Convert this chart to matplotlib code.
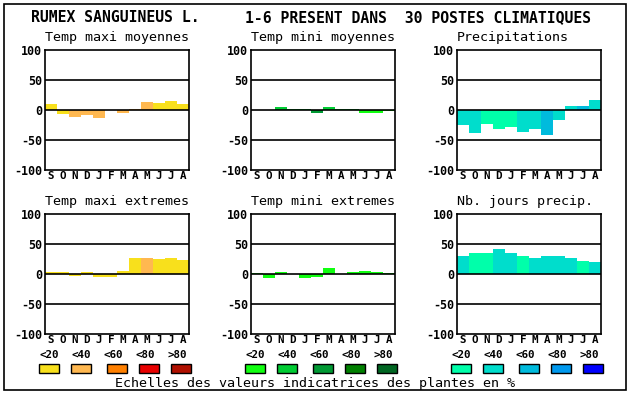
import matplotlib
matplotlib.use("Agg")
import matplotlib.pyplot as plt
from matplotlib.patches import Rectangle

plt.rcParams['font.family'] = 'DejaVu Sans Mono'
plt.rcParams['axes.unicode_minus'] = False

W, H = 630, 394

months = ['S', 'O', 'N', 'D', 'J', 'F', 'M', 'A', 'M', 'J', 'J', 'A']
yticks = [-100, -50, 0, 50, 100]
scale_labels = ['<20', '<40', '<60', '<80', '>80']

# colour scales (classes <20 .. >80)
temp_max_colors = ['#f8e01c', '#ffb850', '#ff8000', '#e80000', '#b01000']
temp_min_colors = ['#11ff11', '#00cc33', '#009933', '#008000', '#006622']
precip_colors = ['#00ffaa', '#00ddcc', '#00bbdd', '#0099ee', '#0000ff']

# values per month and class index of each bar
tmax_moy = [10, -6.7, -11.7, -8.3, -13.3, 0, -5, 1.7, 13.3, 11.7, 15, 10]
tmax_moy_cls = [0, 0, 1, 1, 1, 0, 1, 1, 1, 0, 0, 0]
tmin_moy = [0, 0, 5, 1.7, 1.7, -4.4, 5, 1.7, 1.7, -4.4, -4.4, -2.2]
tmin_moy_cls = [0, 0, 1, 1, 1, 2, 1, 1, 1, 0, 0, 0]
precip = [-24.4, -37.8, -22.8, -31, -27.8, -36, -31, -41, -16, 6.7, 6.7, 17.2]
precip_cls = [1, 1, 0, 0, 0, 1, 1, 2, 1, 1, 2, 1]
tmax_ext = [3.3, 3.3, -2.8, 3.3, -4.4, -4.4, 5, 26.7, 26.7, 25, 26.7, 23.3]
tmax_ext_cls = [0, 0, 0, 0, 0, 0, 0, 0, 1, 0, 0, 0]
tmin_ext = [1.7, -6.1, 3.3, 0, -6.1, -4.4, 10, 0, 3.3, 5, 3.3, 1.7]
tmin_ext_cls = [0] * 12
nb_jours = [30, 35, 35, 41.7, 35, 30, 26.7, 30, 30, 26.7, 21.7, 20]
nb_jours_cls = [1, 0, 0, 1, 1, 0, 1, 1, 1, 1, 0, 1]

panels = [
    ('Temp maxi moyennes', tmax_moy, tmax_moy_cls, temp_max_colors, 45, 50),
    ('Temp mini moyennes', tmin_moy, tmin_moy_cls, temp_min_colors, 251, 50),
    ('Precipitations', precip, precip_cls, precip_colors, 457, 50),
    ('Temp maxi extremes', tmax_ext, tmax_ext_cls, temp_max_colors, 45, 214),
    ('Temp mini extremes', tmin_ext, tmin_ext_cls, temp_min_colors, 251, 214),
    ('Nb. jours precip.', nb_jours, nb_jours_cls, precip_colors, 457, 214),
]

fig = plt.figure(figsize=(W / 100, H / 100), dpi=100)
fig.patch.set_facecolor('white')

# outer frame
fig.patches.append(Rectangle((4 / W, 1 - 390 / H), 622 / W, 386 / H,
                             transform=fig.transFigure, fill=False,
                             edgecolor='black', linewidth=1.2))

fig.text(31 / W, 1 - 18 / H, 'RUMEX SANGUINEUS L.', fontsize=10.6,
         fontweight='bold', ha='left', va='center')
fig.text(245 / W, 1 - 18 / H, '1-6 PRESENT DANS  30 POSTES CLIMATIQUES',
         fontsize=10.6, fontweight='bold', ha='left', va='center')

aw, ah = 144, 120
for title, vals, cls, cols, px, py in panels:
    ax = fig.add_axes([px / W, 1 - (py + ah) / H, aw / W, ah / H])
    x = list(range(12))
    ax.bar(x, vals, width=1.0, color=[cols[c] for c in cls],
           edgecolor='none', zorder=2)
    for yv in (-50, 0, 50):
        ax.axhline(yv, color='black', linewidth=1.2, zorder=3)
    ax.set_xlim(-0.5, 11.5)
    ax.set_ylim(-100, 100)
    ax.set_yticks(yticks)
    ax.set_yticklabels([str(t) for t in yticks], fontsize=8.4, fontweight='bold')
    ax.set_xticks(x)
    ax.set_xticklabels(months, fontsize=7.8, fontweight='bold')
    ax.tick_params(axis='y', length=0, pad=2)
    ax.tick_params(axis='x', length=0, pad=1)
    for s in ax.spines.values():
        s.set_linewidth(1.2)
    fig.text(px / W, 1 - (py - 12) / H, title, fontsize=9.6,
             ha='left', va='center')

# colour scale legends under the bottom row
label_off = [4, 36, 68, 100, 132]
box_off = [4, 36, 72, 104, 136]
for cols, px in [(temp_max_colors, 45), (temp_min_colors, 251), (precip_colors, 457)]:
    for lab, lo, bo, c in zip(scale_labels, label_off, box_off, cols):
        fig.text((px + lo) / W, 1 - 355 / H, lab, fontsize=7.8,
                 fontweight='bold', ha='center', va='center')
        fig.patches.append(Rectangle(((px + bo - 10) / W, 1 - 373 / H),
                                     20 / W, 9 / H, transform=fig.transFigure,
                                     facecolor=c, edgecolor='black',
                                     linewidth=1.0))

fig.text(315 / W, 1 - 383 / H, 'Echelles des valeurs indicatrices des plantes en %',
         fontsize=9.6, ha='center', va='center')

fig.savefig('out.png', dpi=100)
